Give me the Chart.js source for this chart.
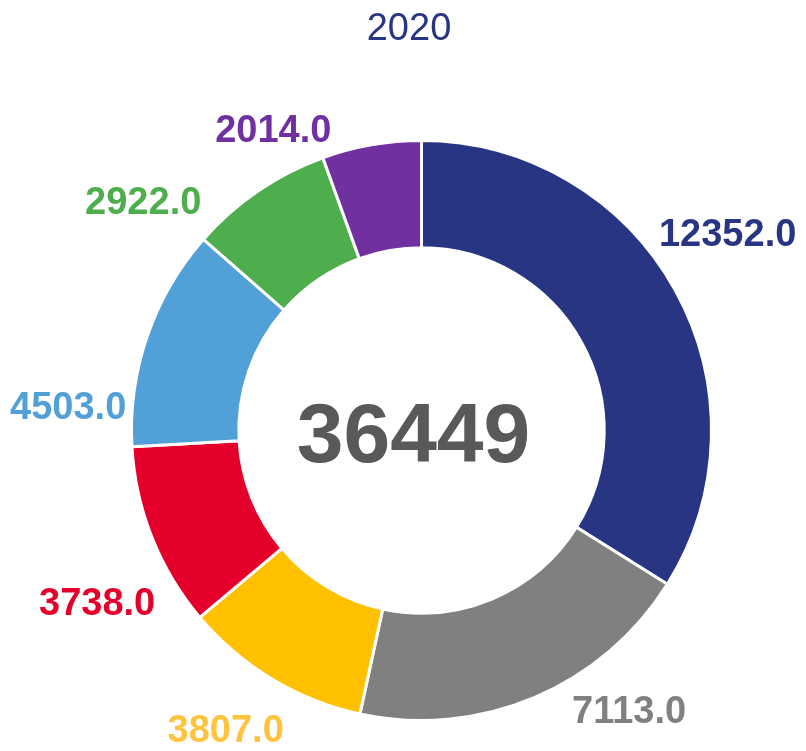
<!DOCTYPE html>
<html>
<head>
<meta charset="utf-8">
<script src="https://cdn.jsdelivr.net/npm/chart.js@4/dist/chart.umd.min.js"></script>
<style>
  body { margin: 0; background: #fff; }
  #wrap { width: 806px; height: 751px; }
</style>
</head>
<body>
<div id="wrap"><canvas id="donut" width="806" height="751"></canvas></div>
<script>
// DATA
const title = '2020';
const categories = ['A', 'B', 'C', 'D', 'E', 'F', 'G'];
const values = [12352, 7113, 3807, 3738, 4503, 2922, 2014];
const colors = ['#283583', '#808080', '#FFC000', '#E4002B', '#52A0D8', '#4EAE4E', '#7030A0'];
const labelColors = ['#283583', '#808080', '#FFC33F', '#E4002B', '#52A0D8', '#4EAE4E', '#7030A0'];

// label placement tweaks (degrees shift from slice middle, distance from center)
const labelShift = [-3.5, -13.5, 2, -6.5, -15.4, -16.5, -16.4];
const labelDist = [363, 350, 359, 368, 354, 359, 334];

const total = values.reduce((a, b) => a + b, 0);

// LABEL PLUGIN
const donutLabels = {
    id: 'donutLabels',
    afterDraw(chart) {
        const ctx = chart.ctx;
        const meta = chart.getDatasetMeta(0);
        ctx.save();
        ctx.textAlign = 'center';
        ctx.textBaseline = 'middle';

        // title
        ctx.font = '38px "Liberation Sans", Arial, sans-serif';
        ctx.fillStyle = '#283583';
        ctx.fillText(title, 409, 30);

        // slice values
        ctx.font = 'bold 38px "Liberation Sans", Arial, sans-serif';
        meta.data.forEach((arc, i) => {
            const mid = (arc.startAngle + arc.endAngle) / 2 + labelShift[i] * Math.PI / 180;
            const x = arc.x + labelDist[i] * Math.cos(mid);
            const y = arc.y + labelDist[i] * Math.sin(mid);
            ctx.fillStyle = labelColors[i];
            ctx.fillText(values[i].toFixed(1), x, y);
        });

        // total in the middle
        const c = meta.data[0];
        ctx.font = 'bold 84px "Liberation Sans", Arial, sans-serif';
        ctx.fillStyle = '#595959';
        ctx.fillText(String(total), c.x - 8, c.y + 8);
        ctx.restore();
    }
};

new Chart(document.getElementById('donut').getContext('2d'), {
    type: 'doughnut',
    data: {
        labels: categories,
        datasets: [{
            data: values,
            backgroundColor: colors,
            borderColor: '#ffffff',
            borderWidth: 3
        }]
    },
    options: {
        responsive: false,
        animation: false,
        cutout: '63%',
        layout: {
            padding: { left: 130, right: 93, top: 139, bottom: 29 }
        },
        plugins: {
            legend: { display: false },
            tooltip: { enabled: false },
            title: { display: false }
        }
    },
    plugins: [donutLabels]
});
</script>
</body>
</html>
